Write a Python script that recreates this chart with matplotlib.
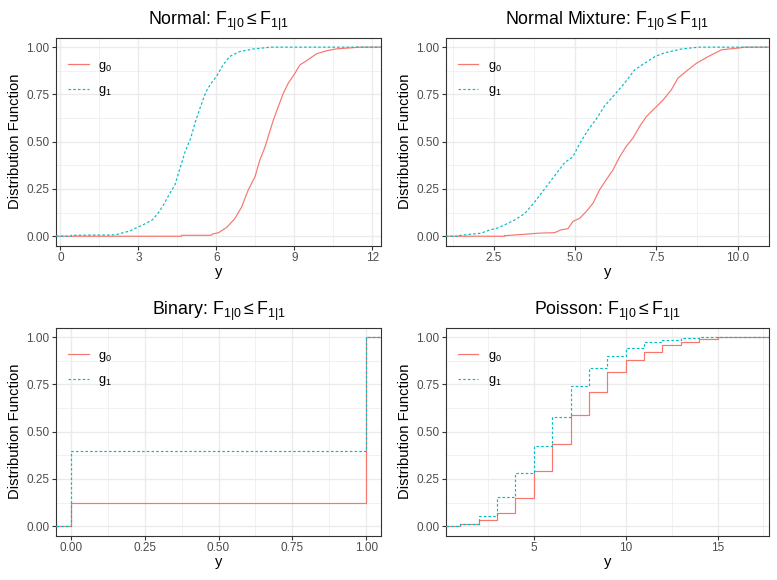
"""ECDF comparison panels (normal, normal mixture, binary, poisson), ggplot theme_bw look."""
import matplotlib
matplotlib.use("Agg")
import matplotlib.pyplot as plt

plt.rcParams.update({
    "font.family": ["Liberation Sans", "DejaVu Sans"],
    "mathtext.fontset": "custom",
    "mathtext.rm": "Liberation Sans",
    "mathtext.it": "Liberation Sans:italic",
    "mathtext.bf": "Liberation Sans:bold",
    "axes.linewidth": 0.8, "axes.edgecolor": "#333333",
    "xtick.color": "#333333", "ytick.color": "#333333",
    "xtick.labelcolor": "#4D4D4D", "ytick.labelcolor": "#4D4D4D",
    "xtick.labelsize": 8.5, "ytick.labelsize": 8.5,
    "xtick.major.size": 2.6, "ytick.major.size": 2.6,
    "xtick.major.width": 0.8, "ytick.major.width": 0.8,
})
RED, CYAN = "#F8766D", "#00BFC4"
GRID = "#EBEBEB"

# ---- data ----
# Normal: quantile points of the two empirical CDFs
NORM_G0_Y = [4.66, 4.66, 5.80, 5.85, 6.07, 6.39, 6.71, 6.97, 7.22, 7.48, 7.67, 7.87, 7.99,
             8.19, 8.38, 8.57, 8.76, 9.02, 9.21, 9.47, 9.85, 10.24, 10.62, 11.33, 11.40]
NORM_G0_F = [0.0, 0.005, 0.005, 0.012, 0.018, 0.046, 0.094, 0.155, 0.244, 0.314, 0.403, 0.473, 0.527,
             0.615, 0.686, 0.756, 0.809, 0.862, 0.906, 0.929, 0.965, 0.981, 0.991, 0.998, 1.0]
NORM_G1_Y = [0.42, 0.42, 2.10, 2.40, 2.67, 3.00, 3.20, 3.55, 3.80, 4.00, 4.20, 4.40, 4.60, 4.80,
             5.00, 5.20, 5.40, 5.60, 5.80, 6.00, 6.25, 6.50, 6.90, 7.40, 7.95, 8.10]
NORM_G1_F = [0.0, 0.005, 0.007, 0.018, 0.028, 0.050, 0.062, 0.088, 0.130, 0.175, 0.225, 0.270, 0.360, 0.450,
             0.515, 0.610, 0.690, 0.765, 0.810, 0.845, 0.905, 0.950, 0.977, 0.990, 0.998, 1.0]

# Normal mixture
MIX_G0_Y = [2.83, 2.83, 3.34, 3.86, 4.37, 4.57, 4.78, 4.93, 5.14, 5.34, 5.55, 5.75, 5.96, 6.16, 6.37,
            6.57, 6.78, 6.98, 7.19, 7.45, 7.70, 7.96, 8.16, 8.47, 8.73, 9.09, 9.50, 10.00, 10.22]
MIX_G0_F = [0.0, 0.003, 0.009, 0.016, 0.019, 0.034, 0.040, 0.078, 0.095, 0.130, 0.175, 0.245, 0.300, 0.350, 0.420,
            0.475, 0.520, 0.580, 0.633, 0.677, 0.720, 0.775, 0.836, 0.880, 0.915, 0.950, 0.986, 0.995, 1.0]
MIX_G1_Y = [1.45, 1.45, 1.80, 2.11, 2.32, 2.62, 2.83, 3.14, 3.45, 3.75, 4.06, 4.37, 4.68, 4.93, 5.14,
            5.39, 5.65, 5.91, 6.22, 6.52, 6.83, 7.14, 7.45, 7.75, 8.06, 8.26, 8.68, 8.80]
MIX_G1_F = [0.0, 0.004, 0.011, 0.016, 0.030, 0.044, 0.060, 0.086, 0.120, 0.180, 0.250, 0.320, 0.390, 0.420, 0.490,
            0.560, 0.620, 0.690, 0.750, 0.810, 0.880, 0.915, 0.950, 0.970, 0.982, 0.990, 0.998, 1.0]

# Binary
BIN_Y = [0, 1]
BIN_G0_F = [0.122, 1.0]
BIN_G1_F = [0.397, 1.0]

# Poisson
POIS_Y = list(range(1, 16))
POIS_G0_F = [0.011, 0.034, 0.071, 0.148, 0.293, 0.434, 0.587, 0.709, 0.817, 0.878,
             0.922, 0.958, 0.974, 0.989, 1.0]
POIS_G1_F = [0.014, 0.053, 0.153, 0.284, 0.423, 0.577, 0.741, 0.838, 0.899, 0.942,
             0.974, 0.984, 0.993, 1.0, 1.0]

TITLES = ["Normal", "Normal Mixture", "Binary", "Poisson"]
XLIMS = [(-0.17, 12.33), (1.02, 10.96), (-0.05, 1.05), (0.2, 17.8)]
XTICKS = [[0, 3, 6, 9, 12], [2.5, 5.0, 7.5, 10.0], [0, 0.25, 0.5, 0.75, 1.0], [5, 10, 15]]
XFMT = ["{:.0f}", "{:.1f}", "{:.2f}", "{:.0f}"]
YTICKS = [0, 0.25, 0.5, 0.75, 1.0]

fig = plt.figure(figsize=(7.77, 5.80), dpi=100)
boxes = [(0.0721, 0.5764, 0.4183, 0.3586), (0.5736, 0.5764, 0.4161, 0.3586),
         (0.0721, 0.0764, 0.4183, 0.3586), (0.5736, 0.0764, 0.4161, 0.3586)]
axes = [fig.add_axes(b) for b in boxes]


def style(ax, i):
    lo, hi = XLIMS[i]
    ax.set_xlim(lo, hi); ax.set_ylim(-0.05, 1.05)
    ticks = XTICKS[i]
    step = ticks[1] - ticks[0]
    minors = [ticks[0] - step / 2] + [t + step / 2 for t in ticks]
    ax.set_xticks(ticks); ax.set_xticklabels([XFMT[i].format(t) for t in ticks])
    ax.set_xticks([m for m in minors if lo < m < hi], minor=True)
    ax.set_yticks(YTICKS); ax.set_yticklabels([f"{t:.2f}" for t in YTICKS])
    ax.set_yticks([0.125, 0.375, 0.625, 0.875], minor=True)
    ax.tick_params(which="minor", length=0)
    ax.tick_params(which="major", pad=2)
    ax.grid(which="major", color=GRID, lw=1.0, zorder=0)
    ax.grid(which="minor", color=GRID, lw=0.5, zorder=0)
    ax.set_axisbelow(True)
    ax.set_xlabel("y", fontsize=10.6, labelpad=1)
    ax.set_ylabel("Distribution Function", fontsize=10.6, labelpad=3)
    ax.set_title(TITLES[i] + r": $\mathrm{F}_{1|0} \leq \mathrm{F}_{1|1}$", fontsize=12.8, pad=9)
    ax.legend(loc="upper left", bbox_to_anchor=(0.038, 0.895), frameon=False, fontsize=9.2,
              handlelength=1.6, handletextpad=0.75, labelspacing=0.85, borderpad=0, borderaxespad=0)


LW = 0.85
DOT = (0, (2.2, 1.8))
curves = [(NORM_G0_Y, NORM_G0_F, NORM_G1_Y, NORM_G1_F),
          (MIX_G0_Y, MIX_G0_F, MIX_G1_Y, MIX_G1_F)]
for i, (y0, f0, y1, f1) in enumerate(curves):
    ax = axes[i]
    lo, hi = XLIMS[i]
    ax.plot([lo] + y0 + [hi], [0] + f0 + [1], color=RED, lw=LW, label=r"$\mathrm{g}_0$", zorder=3)
    ax.plot([lo] + y1 + [hi], [0] + f1 + [1], color=CYAN, lw=LW, ls=DOT, label=r"$\mathrm{g}_1$", zorder=4)

for i, (ys, f0, f1) in zip([2, 3], [(BIN_Y, BIN_G0_F, BIN_G1_F), (POIS_Y, POIS_G0_F, POIS_G1_F)]):
    ax = axes[i]
    lo, hi = XLIMS[i]
    ax.step([lo] + ys + [hi], [0] + f0 + [1], where="post", color=RED, lw=LW,
            label=r"$\mathrm{g}_0$", zorder=3)
    ax.step([lo] + ys + [hi], [0] + f1 + [1], where="post", color=CYAN, lw=LW, ls=DOT,
            label=r"$\mathrm{g}_1$", zorder=4)

for i, ax in enumerate(axes):
    style(ax, i)

fig.savefig("out.png", dpi=100)
